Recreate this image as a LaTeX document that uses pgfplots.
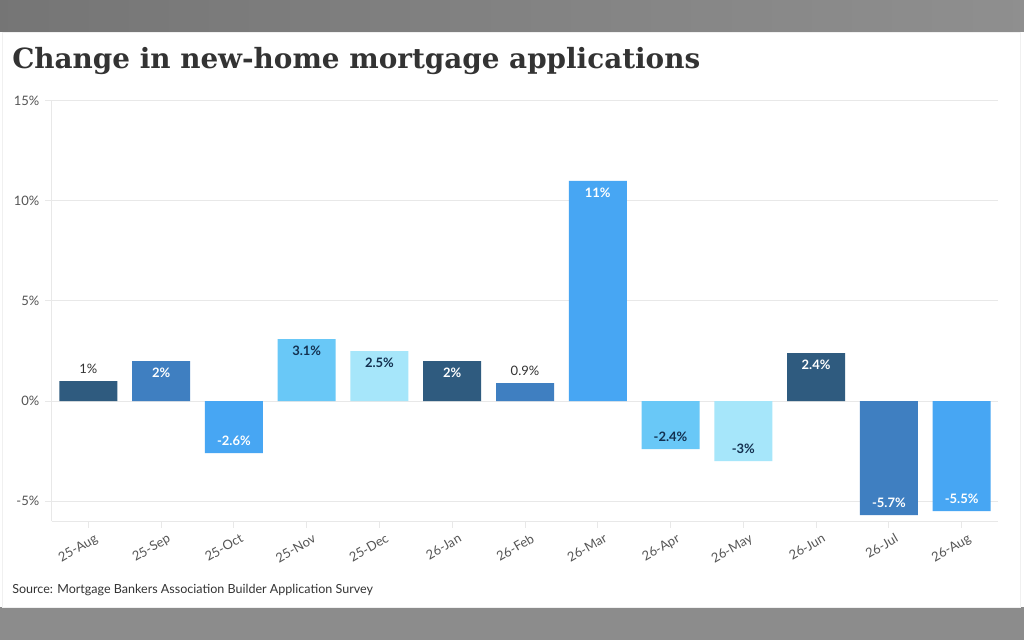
\documentclass[border=0pt]{standalone}
\usepackage{pgfplots}
\pgfplotsset{compat=1.18}
\usepackage{fontspec}
\setmainfont{Lato}
\newfontfamily\titlefont{DejaVu Serif}
\definecolor{cA}{HTML}{2F5B7F}
\definecolor{cB}{HTML}{3F7FC1}
\definecolor{cC}{HTML}{47A6F3}
\definecolor{cD}{HTML}{69C8F7}
\definecolor{cE}{HTML}{A6E6FA}
\definecolor{navy}{HTML}{13304F}
\definecolor{txt}{HTML}{333333}
\definecolor{ticktxt}{HTML}{555555}
\definecolor{gridc}{HTML}{E8E8E8}
\begin{document}
\begin{tikzpicture}[x=0.75pt,y=0.75pt]
\useasboundingbox (0,0) rectangle (1024,640);
\shade[left color=black!54, right color=black!44] (0,608) rectangle (1024,640);
\fill[black!45] (0,0) rectangle (1024,33);
\fill[white] (0,33) rectangle (1024,608);
\draw[black!6] (2,33) rectangle (1020,608);
\node[anchor=west, inner sep=0pt, text=txt] at (12,579) {\resizebox{516pt}{!}{\titlefont\bfseries Change in new-home mortgage applications}};
\node[anchor=west, inner sep=0pt, text=txt] at (12,50) {\fontsize{9.4}{11}\selectfont Source: Mortgage Bankers Association Builder Application Survey};
\begin{axis}[
  at={(39pt,89.25pt)}, anchor=south west,
  scale only axis, width=709.5pt, height=315pt,
  xmin=-0.5, xmax=12.5, ymin=-6, ymax=15,
  ytick={-5,0,5,10,15},
  yticklabel={\pgfmathprintnumber{\tick}\%},
  xtick={0,...,12},
  xticklabels={25-Aug,25-Sep,25-Oct,25-Nov,25-Dec,26-Jan,26-Feb,26-Mar,26-Apr,26-May,26-Jun,26-Jul,26-Aug},
  /pgf/number format/assume math mode=true,
  tick label style={font=\fontsize{9.75}{11}\selectfont, text=ticktxt},
  xticklabel style={rotate=30, anchor=north east, xshift=5pt, yshift=-2pt},
  yticklabel style={xshift=-1pt},
  axis x line*=bottom, axis y line*=left,
  axis line style={draw=gridc, line width=0.75pt},
  tick style={draw=gridc, line width=0.75pt},
  tick align=outside, major tick length=5pt,
  ymajorgrids, grid style={draw=gridc, line width=0.75pt},
  bar width=43.5pt,
  clip=false,
]
\addplot[ybar, bar shift=0pt, fill=cA, draw=none] coordinates {(0,1) (5,2) (10,2.4)};
\addplot[ybar, bar shift=0pt, fill=cB, draw=none] coordinates {(1,2) (6,0.9) (11,-5.7)};
\addplot[ybar, bar shift=0pt, fill=cC, draw=none] coordinates {(2,-2.6) (7,11) (12,-5.5)};
\addplot[ybar, bar shift=0pt, fill=cD, draw=none] coordinates {(3,3.1) (8,-2.4)};
\addplot[ybar, bar shift=0pt, fill=cE, draw=none] coordinates {(4,2.5) (9,-3)};
% labels above bar
\addplot[only marks, mark=none, point meta=explicit symbolic, nodes near coords,
  nodes near coords style={anchor=south, yshift=2pt, font=\fontsize{9.75}{10}\selectfont, text=txt}]
  coordinates {(0,1) [1\%] (6,0.9) [0.9\%]};
% labels inside top, white
\addplot[only marks, mark=none, point meta=explicit symbolic, nodes near coords,
  nodes near coords style={anchor=north, yshift=-2pt, font=\bfseries\fontsize{9.75}{10}\selectfont, text=white}]
  coordinates {(1,2) [2\%] (5,2) [2\%] (7,11) [11\%] (10,2.4) [2.4\%]};
% labels inside top, navy
\addplot[only marks, mark=none, point meta=explicit symbolic, nodes near coords,
  nodes near coords style={anchor=north, yshift=-2pt, font=\bfseries\fontsize{9.75}{10}\selectfont, text=navy}]
  coordinates {(3,3.1) [3.1\%] (4,2.5) [2.5\%]};
% labels inside bottom, white
\addplot[only marks, mark=none, point meta=explicit symbolic, nodes near coords,
  nodes near coords style={anchor=south, yshift=2pt, font=\bfseries\fontsize{9.75}{10}\selectfont, text=white}]
  coordinates {(2,-2.6) [-2.6\%] (11,-5.7) [-5.7\%] (12,-5.5) [-5.5\%]};
% labels inside bottom, navy
\addplot[only marks, mark=none, point meta=explicit symbolic, nodes near coords,
  nodes near coords style={anchor=south, yshift=2pt, font=\bfseries\fontsize{9.75}{10}\selectfont, text=navy}]
  coordinates {(8,-2.4) [-2.4\%] (9,-3) [-3\%]};
\end{axis}
\end{tikzpicture}
\end{document}
